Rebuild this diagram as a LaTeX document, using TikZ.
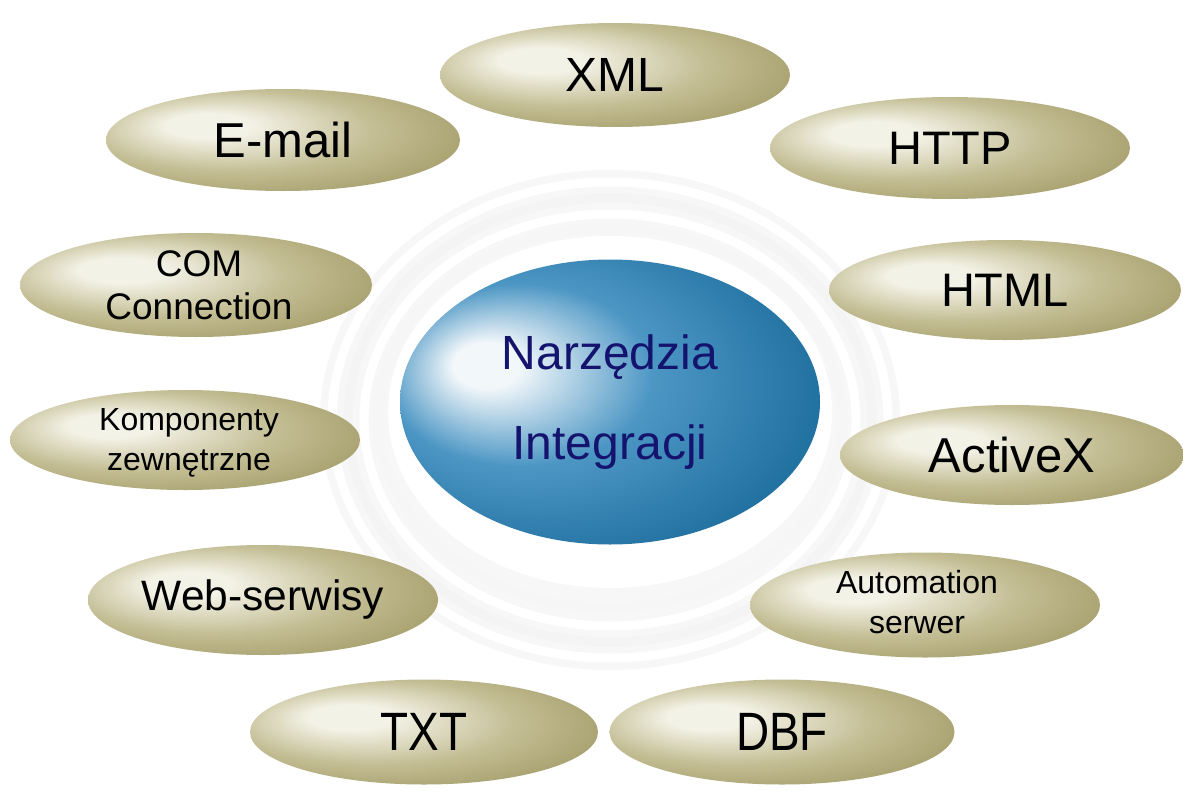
\documentclass[tikz,border=0pt]{standalone}
\usepackage{fontspec}
\setmainfont{Liberation Sans}
\usetikzlibrary{shapes.geometric}
\definecolor{olL}{HTML}{F3F2E6}
\definecolor{olM}{HTML}{C4BE95}
\definecolor{olD}{HTML}{A29A66}
\definecolor{olE}{HTML}{968E5A}
\definecolor{bL}{HTML}{F2F7FA}
\definecolor{bM}{HTML}{4C96C4}
\definecolor{bD}{HTML}{1F6F9F}
\definecolor{bE}{HTML}{3B89B6}
\definecolor{navy}{HTML}{14146E}
\pgfdeclareradialshading{oliveshade}{\pgfpoint{-12bp}{8bp}}{%
  color(0bp)=(olL); color(6bp)=(olL); color(20bp)=(olM); color(34bp)=(olD); color(50bp)=(olE)}
\pgfdeclareradialshading{blueshade}{\pgfpoint{-16bp}{7bp}}{%
  color(0bp)=(bL); color(4bp)=(bL); color(16bp)=(bM); color(32bp)=(bD); color(44bp)=(bD); color(50bp)=(bE)}
\tikzset{
  pill/.style={ellipse, shading=oliveshade, inner sep=0pt, align=center, text=black},
  hub/.style={ellipse, shading=blueshade, inner sep=0pt, align=center, text=navy},
  lbl/.style={inner sep=0pt, align=center, text=black},
  ring/.style={draw=#1, line width=9pt},
  big/.style={font=\fontsize{48}{56}\selectfont},
  mid/.style={font=\fontsize{37}{43}\selectfont},
  small/.style={font=\fontsize{32}{40}\selectfont},
}
\begin{document}
\begin{tikzpicture}[x=1pt,y=-1pt]
\useasboundingbox (0,0) rectangle (1183,795);
\fill[white] (0,0) rectangle (1183,795);
% halo
\fill[gray!6] (610,420) ellipse [x radius=290, y radius=250];
\draw[ring=white] (610,420) ellipse [x radius=278, y radius=238];
\draw[ring=gray!9] (610,420) ellipse [x radius=262, y radius=222];
\draw[ring=white] (610,420) ellipse [x radius=246, y radius=206];
\draw[ring=gray!7] (610,418) ellipse [x radius=232, y radius=190];
\fill[white] (610,412) ellipse [x radius=222, y radius=176];
% satellites
\node[pill, big, minimum width=350, minimum height=104] (xml) at (615,75) {XML};
\node[pill, font=\fontsize{49}{56}\selectfont, minimum width=354, minimum height=102] (email) at (283,140) {E-mail};
\node[pill, font=\fontsize{47}{56}\selectfont, minimum width=360, minimum height=102] (http) at (950,148) {HTTP};
\node[pill, minimum width=352, minimum height=104] (com) at (196,285) {};
\node[lbl, mid] (comt) at (199,285) {COM\\Connection};
\node[pill, font=\fontsize{47}{56}\selectfont, minimum width=352, minimum height=100] (html) at (1005,290) {HTML};
\node[pill, minimum width=350, minimum height=100] (komp) at (185,440) {};
\node[lbl, small] (kompt) at (189,443) {Komponenty\\zewnętrzne};
\node[pill, font=\fontsize{49}{56}\selectfont, minimum width=344, minimum height=100] (activex) at (1012,455) {ActiveX};
\node[pill, font=\fontsize{42.5}{48}\selectfont, minimum width=350, minimum height=110] (web) at (263,600) {Web-serwisy};
\node[pill, minimum width=350, minimum height=105] (auto) at (925,605) {};
\node[lbl, small] (autot) at (917,602) {Automation\\serwer};
\node[pill, minimum width=348, minimum height=105] (txt) at (424,732) {\fontsize{54}{56}\selectfont\addfontfeature{FakeStretch=0.85}TXT};
\node[pill, minimum width=345, minimum height=105] (dbf) at (782,732) {\fontsize{54}{56}\selectfont\addfontfeature{FakeStretch=0.85}DBF};
% hub
\node[hub, font=\fontsize{48}{90}\selectfont, minimum width=420, minimum height=285] (hubnode) at (610,402) {Narzędzia\\Integracji};
\end{tikzpicture}
\end{document}
